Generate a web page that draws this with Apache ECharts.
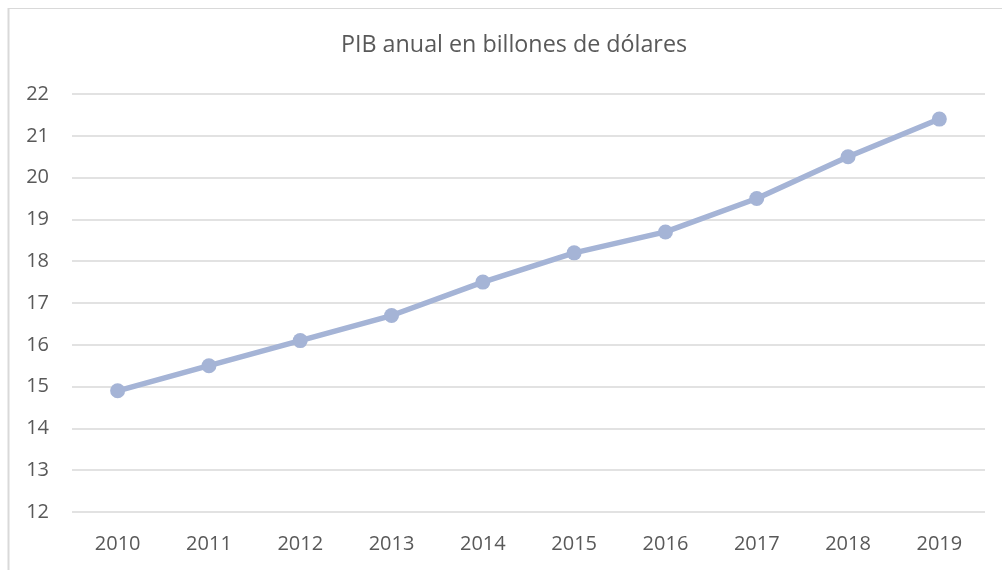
<!DOCTYPE html>
<html><head><meta charset="utf-8">
<script src="https://cdn.jsdelivr.net/npm/echarts@6/dist/echarts.min.js"></script>
<style>html,body{margin:0;padding:0;background:#fff}#c{width:1002px;height:570px}</style>
</head><body><div id="c"></div>
<script>
const title = 'PIB anual en billones de dólares';
const years = ['2010','2011','2012','2013','2014','2015','2016','2017','2018','2019'];
const gdp = [14.9, 15.5, 16.1, 16.7, 17.5, 18.2, 18.7, 19.5, 20.5, 21.4];
const yMin = 12, yMax = 22, yStep = 1;

const chart = echarts.init(document.getElementById('c'));
const font = '"Open Sans", sans-serif';
chart.setOption({
  animation: false,
  backgroundColor: '#fff',
  title: { text: title, left: 336, top: 29,
    textStyle: { fontFamily: font, fontSize: 23.3, fontWeight: 'normal', color: '#595959' } },
  graphic: [
    { type: 'line', shape: { x1: 8, y1: 8.5, x2: 1002, y2: 8.5 }, style: { stroke: '#d9d9d9', lineWidth: 1 } },
    { type: 'line', shape: { x1: 8.5, y1: 8, x2: 8.5, y2: 570 }, style: { stroke: '#d9d9d9', lineWidth: 2 } }
  ],
  grid: { left: 72, right: 17, top: 94, bottom: 58, containLabel: false },
  xAxis: { type: 'category', data: years, boundaryGap: true,
    axisLine: { show: false }, axisTick: { show: false },
    axisLabel: { fontFamily: font, fontSize: 20, color: '#595959', margin: 22 } },
  yAxis: { type: 'value', min: yMin, max: yMax, interval: yStep,
    axisLine: { show: false }, axisTick: { show: false },
    splitLine: { lineStyle: { color: '#d9d9d9', width: 1.5 } },
    axisLabel: { fontFamily: font, fontSize: 20, color: '#595959', margin: 23 } },
  series: [{ type: 'line', data: gdp, symbol: 'circle', symbolSize: 15,
    lineStyle: { color: '#a5b4d6', width: 5.5 },
    itemStyle: { color: '#a5b4d6' } }]
});
</script></body></html>
